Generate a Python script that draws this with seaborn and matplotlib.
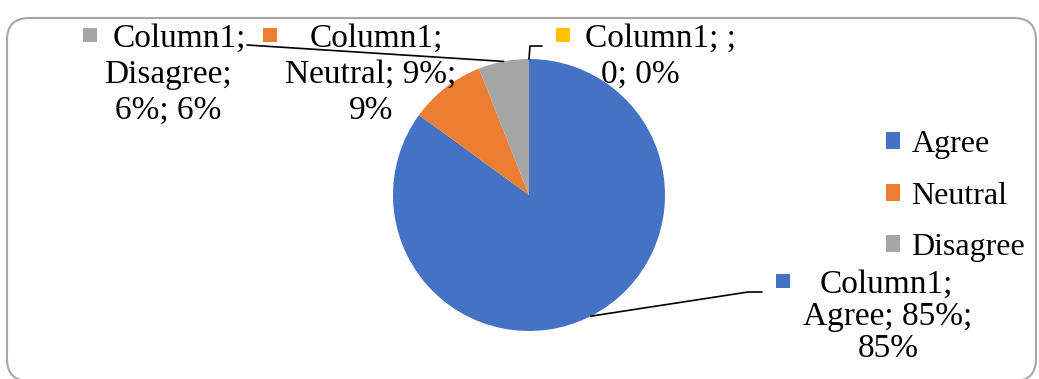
import numpy as np
import matplotlib
matplotlib.use("Agg")
import matplotlib.pyplot as plt
import seaborn as sns
from matplotlib.patches import FancyBboxPatch

# data
categories = ["Agree", "Neutral", "Disagree", ""]
values = [0.85, 0.09, 0.06, 0]
value_text = ["85%", "9%", "6%", "0"]
pct_text = ["85%", "9%", "6%", "0%"]
colors = ["#4472C4", "#ED7D31", "#A5A5A5", "#FFC000"]

sns.set_theme(style="white")
plt.rcParams['font.family'] = ['Liberation Serif', 'DejaVu Serif']
plt.rcParams['text.color'] = 'black'

W, H = 1039, 379
fig = plt.figure(figsize=(W / 100, H / 100), dpi=100)
ax = fig.add_axes([0, 0, 1, 1])

# rounded chart frame
frame = FancyBboxPatch((7, -2), W - 10, H - 16, boxstyle="round,pad=0,rounding_size=22",
                       fc="none", ec="#A6A6A6", lw=1.5)
ax.add_patch(frame)

cx, cy, r = 529, H - 195, 136
wedges, _ = ax.pie(values, colors=colors, startangle=90, counterclock=False,
                   center=(cx, cy), radius=r, frame=True,
                   wedgeprops=dict(linewidth=0))
ax.set_xlim(0, W)
ax.set_ylim(0, H)
ax.set_aspect("equal")
ax.axis("off")

# mid angle of each wedge, for the leader lines
fr = np.array(values) / sum(values)
ends = 90 - 360 * np.cumsum(fr)
mids = ends + 180 * fr
edge = [(cx + r * np.cos(np.radians(a)), cy + r * np.sin(np.radians(a))) for a in mids]

fs = 24
def label(i, x0, xc, y0, step, lines, mx):
    # first line sits right of the colour key, the rest are centred
    ax.text(x0, H - y0, lines[0], ha="left", va="baseline", fontsize=fs)
    for k, t in enumerate(lines[1:], start=1):
        ax.text(xc, H - y0 - k * step, t, ha="center", va="baseline", fontsize=fs)
    ax.add_patch(plt.Rectangle((mx, H - y0 + 5), 14, 14, color=colors[i], lw=0))

# Agree
label(0, 820, 888, 293, 32,
      ["Column1;", f"{categories[0]}; {value_text[0]};", pct_text[0]], 776)
# Neutral
label(1, 310, 371, 47, 36,
      ["Column1;", f"{categories[1]}; {value_text[1]};", pct_text[1]], 263)
# Disagree
label(2, 113, 168, 47, 36,
      ["Column1;", f"{categories[2]};", f"{value_text[2]}; {pct_text[2]}"], 83)
# empty category
label(3, 585, 640, 47, 36,
      ["Column1; ;", f"{value_text[3]}; {pct_text[3]}"], 556)

# leader lines
ax.plot([edge[0][0], 748, 762], [edge[0][1], H - 292, H - 292], color="black", lw=1.2)
ax.plot([edge[2][0], 247], [edge[2][1], H - 45], color="black", lw=1.2)
ax.plot([edge[3][0], edge[3][0] + 1, edge[3][0] + 13], [edge[3][1], H - 46, H - 46],
        color="black", lw=1.2)

leg = ax.legend(wedges[:3], categories[:3], loc="center left",
                bbox_to_anchor=(886 / W, 1 - 196 / H), frameon=False, fontsize=23,
                handlelength=0.45, handleheight=0.45, handletextpad=0.35,
                labelspacing=0.7, borderpad=0, borderaxespad=0)
for t in leg.get_texts():
    t.set_color("black")

fig.savefig("out.png", dpi=100)
